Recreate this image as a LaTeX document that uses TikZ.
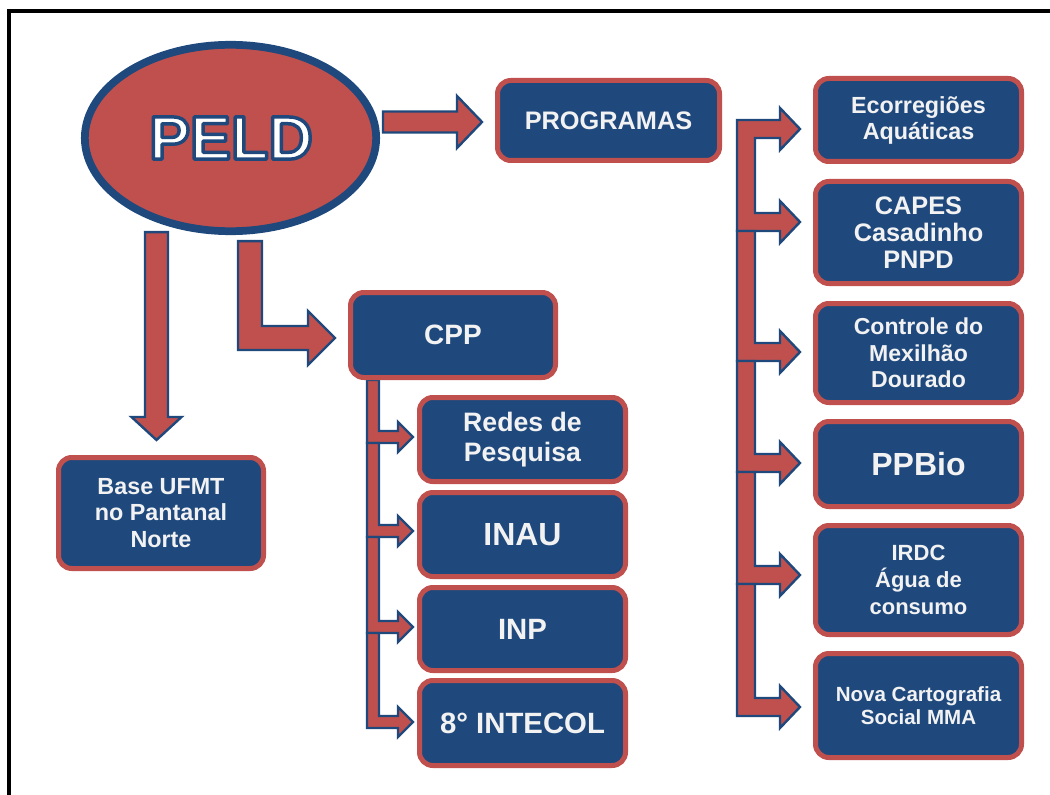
\documentclass[tikz,border=0pt]{standalone}
\usepackage{fontspec}
\setmainfont{Liberation Sans}
\usetikzlibrary{calc,shapes.geometric}
\definecolor{pred}{HTML}{C0504D}
\definecolor{pblue}{HTML}{1F497D}
\definecolor{ptext}{HTML}{F2F2F2}
\pgfdeclarelayer{background}
\pgfsetlayers{background,main}
% outlined text: white fill, blue stroke (text render mode 2)
\newcommand\outlinedtext[1]{{\color{white}\special{pdf:literal direct 0.122 0.286 0.490 RG 2.6 w 1 j 2 Tr}#1\special{pdf:literal direct 0 Tr}}}
% L-shaped block arrow: #1 top-left of vertical bar, #2 tip, #3 width, #4 head length, #5 head half height
\newcommand\blkL[5]{\path[barrow] let \p1=(#1), \p2=(#2) in
 (\x1,\y1) -- (\x1+#3,\y1) -- (\x1+#3,\y2+0.5*#3) -- (\x2-#4,\y2+0.5*#3) -- (\x2-#4,\y2+#5) -- (\x2,\y2)
 -- (\x2-#4,\y2-#5) -- (\x2-#4,\y2-0.5*#3) -- (\x1,\y2-0.5*#3) -- cycle;}
% horizontal block arrow: #1 start (shaft centre line), #2 tip
\newcommand\blkH[5]{\path[barrow] let \p1=(#1), \p2=(#2) in
 (\x1,\y2+0.5*#3) -- (\x2-#4,\y2+0.5*#3) -- (\x2-#4,\y2+#5) -- (\x2,\y2) -- (\x2-#4,\y2-#5)
 -- (\x2-#4,\y2-0.5*#3) -- (\x1,\y2-0.5*#3) -- cycle;}
% vertical block arrow: #1 top centre, #2 tip
\newcommand\blkV[5]{\path[barrow] let \p1=(#1), \p2=(#2) in
 (\x1-0.5*#3,\y1) -- (\x1+0.5*#3,\y1) -- (\x1+0.5*#3,\y2+#4) -- (\x1+#5,\y2+#4) -- (\x1,\y2)
 -- (\x1-#5,\y2+#4) -- (\x1-0.5*#3,\y2+#4) -- cycle;}
% E-shaped block arrow with two heads: #1 top-left, #2 first tip, #3 second tip
\newcommand\blkE[6]{\path[barrow] let \p1=(#1), \p2=(#2), \p3=(#3) in
 (\x1,\y1) -- (\x2-#5,\y1) -- (\x2-#5,\y2+#6) -- (\x2,\y2) -- (\x2-#5,\y2-#6) -- (\x2-#5,\y2-0.5*#4)
 -- (\x1+#4,\y2-0.5*#4) -- (\x1+#4,\y3+0.5*#4) -- (\x3-#5,\y3+0.5*#4) -- (\x3-#5,\y3+#6) -- (\x3,\y3)
 -- (\x3-#5,\y3-#6) -- (\x3-#5,\y3-0.5*#4) -- (\x1,\y3-0.5*#4) -- cycle;}
\begin{document}
\begin{tikzpicture}[x=0.75pt,y=-0.75pt,
  barrow/.style={fill=pred,draw=pblue,line width=1.8pt,line join=miter},
  box/.style={draw=pred,fill=pblue,line width=3.75pt,rounded corners=10pt,text=ptext,
    align=center,inner sep=0pt},
  rbox/.style={box,minimum width=154.5pt},
  lbox/.style={box,minimum width=154.5pt},
  peldshape/.style={ellipse,draw=pblue,fill=pred,line width=5.8pt,inner sep=0pt,
    minimum width=218.5pt,minimum height=139.8pt},
  peldfont/.style={font=\fontsize{46}{50}\selectfont\bfseries}]
\useasboundingbox (0,0) rectangle (1050,795);
\clip (0,0) rectangle (1050,795);
\draw[line width=2.4pt] (9,800) -- (9,11) -- (1060,11);

% main nodes
\node[peldshape] (peld) at (230.5,138) {};
\node[peldfont,inner sep=0pt] (peldtxt) at (231,138) {\outlinedtext{PELD}};

\node[box,minimum width=166.5pt,minimum height=60pt,font=\fontsize{19}{22}\selectfont\bfseries]
  (prog) at (608.5,120.5) {PROGRAMAS};
\node[box,minimum width=153.75pt,minimum height=63.75pt,font=\fontsize{21}{24}\selectfont\bfseries]
  (cpp) at (453,335) {CPP};
\node[box,minimum width=153.75pt,minimum height=83.25pt,font=\fontsize{17.5}{20}\selectfont\bfseries]
  (base) at (161,513) {Base UFMT\\no Pantanal\\Norte};

% right column
\node[rbox,minimum height=62.25pt,font=\fontsize{17.5}{19.5}\selectfont\bfseries]
  (eco) at (918.5,120) {Ecorregiões\\Aquáticas};
\node[rbox,minimum height=76.5pt,font=\fontsize{19}{20}\selectfont\bfseries]
  (capes) at (918.5,232.5) {CAPES\\Casadinho\\PNPD};
\node[rbox,minimum height=74.25pt,font=\fontsize{17.3}{20}\selectfont\bfseries]
  (ctrl) at (918.5,353) {Controle do\\Mexilhão\\Dourado};
\node[rbox,minimum height=63.75pt,font=\fontsize{24}{26}\selectfont\bfseries]
  (ppbio) at (918.5,464) {PPBio};
\node[rbox,minimum height=81.75pt,font=\fontsize{16.5}{20}\selectfont\bfseries]
  (irdc) at (918.5,580) {IRDC\\Água de\\consumo};
\node[rbox,minimum height=78pt,font=\fontsize{15.4}{17}\selectfont\bfseries]
  (nova) at (918.5,705.5) {Nova Cartografia\\Social MMA};

% CPP column
\node[lbox,minimum height=63pt,font=\fontsize{20}{23}\selectfont\bfseries]
  (redes) at (522.5,439.5) {Redes de\\Pesquisa};
\node[lbox,minimum height=63pt,font=\fontsize{24}{26}\selectfont\bfseries]
  (inau) at (522.5,534.5) {INAU};
\node[lbox,minimum height=62.25pt,font=\fontsize{22}{24}\selectfont\bfseries]
  (inp) at (522.5,629) {INP};
\node[lbox,minimum height=63.75pt,font=\fontsize{22}{24}\selectfont\bfseries]
  (intecol) at (522.5,723) {8° INTECOL};

% connector coordinates
\coordinate (rbar) at (737,0);
\coordinate (lbar) at (367,0);
\coordinate (tEco) at ($(eco.west)+(-13,9)$);
\coordinate (tCapes) at ($(capes.west)+(-13,-10.5)$);
\coordinate (tCtrl) at ($(ctrl.west)+(-13,-1)$);
\coordinate (tPpbio) at ($(ppbio.west)+(-13,-1)$);
\coordinate (tIrdc) at ($(irdc.west)+(-13,-5)$);
\coordinate (tNova) at ($(nova.west)+(-13,1.5)$);
\coordinate (tRedes) at ($(redes.west)+(-4,-2.5)$);
\coordinate (tInau) at ($(inau.west)+(-4,-3.5)$);
\coordinate (tInp) at ($(inp.west)+(-4,-2)$);
\coordinate (tIntecol) at ($(intecol.west)+(-4,-1)$);

\begin{pgfonlayer}{background}
  % PELD -> PROGRAMAS
  \blkH{$(peld.east)+(3,-16)$}{$(prog.west)+(-13,1.5)$}{15.75pt}{18.75pt}{19.5pt}
  % PELD -> Base UFMT
  \blkV{$(peld.south)+(-74,-3)$}{$(base.north)+(-4.5,-15)$}{17.25pt}{17.25pt}{18.75pt}
  % PELD -> CPP
  \blkL{$(peld.south)+(7.5,6)$}{$(cpp.west)+(-13,3)$}{18pt}{20.25pt}{20.25pt}
  % PROGRAMAS column
  \blkE{$(rbar |- tEco)+(0,-9)$}{tEco}{tCapes}{13.5pt}{15pt}{15.75pt}
  \blkL{$(rbar |- tCapes)+(0,9)$}{tCtrl}{13.5pt}{15pt}{15.75pt}
  \blkL{$(rbar |- tCtrl)+(0,9)$}{tPpbio}{13.5pt}{15pt}{15.75pt}
  \blkL{$(rbar |- tPpbio)+(0,9)$}{tIrdc}{13.5pt}{15pt}{15.75pt}
  \blkL{$(rbar |- tIrdc)+(0,9)$}{tNova}{13.5pt}{15pt}{15.75pt}
  % CPP column
  \blkL{lbar |- cpp.south}{tRedes}{9pt}{11.25pt}{11.25pt}
  \blkL{$(lbar |- tRedes)+(0,6)$}{tInau}{9pt}{11.25pt}{11.25pt}
  \blkL{$(lbar |- tInau)+(0,6)$}{tInp}{9pt}{11.25pt}{11.25pt}
  \blkL{$(lbar |- tInp)+(0,6)$}{tIntecol}{9pt}{11.25pt}{11.25pt}
\end{pgfonlayer}
\end{tikzpicture}
\end{document}
